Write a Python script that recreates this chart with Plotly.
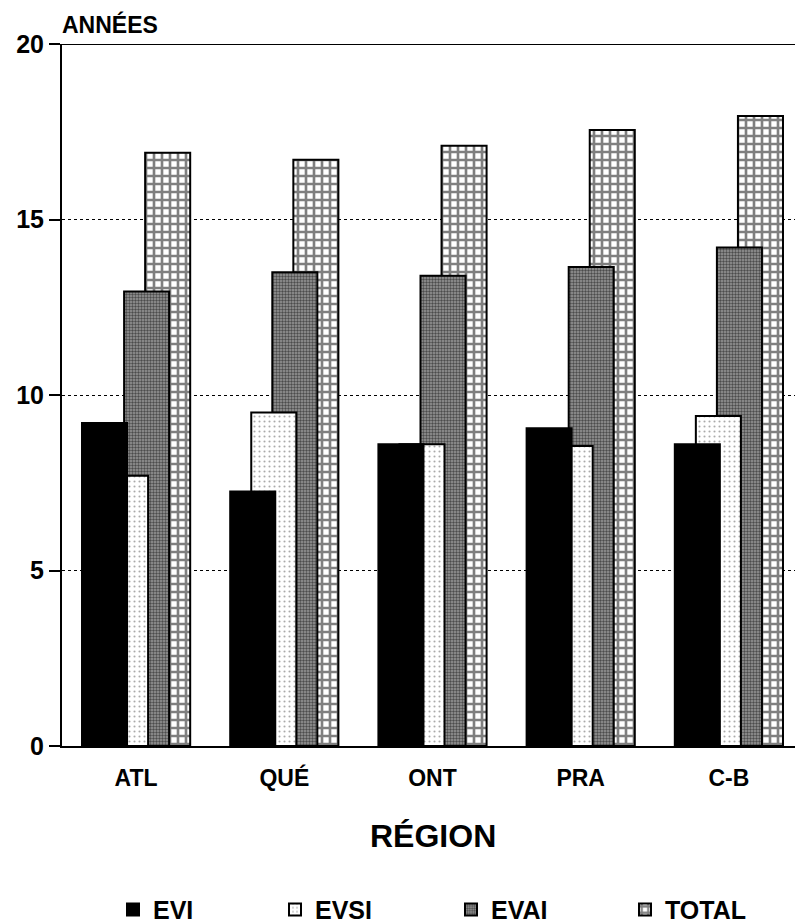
import plotly.graph_objects as go

regions = ["ATL", "QUÉ", "ONT", "PRA", "C-B"]
evi = [9.2, 7.25, 8.6, 9.05, 8.6]
evsi = [7.7, 9.5, 8.6, 8.55, 9.4]
evai = [12.95, 13.5, 13.4, 13.65, 14.2]
total = [16.9, 16.7, 17.1, 17.55, 17.95]
yticks = [0, 5, 10, 15, 20]

FONT = "Liberation Sans, Arial, Helvetica, sans-serif"
W = 0.304
STEP = 0.142
L0 = -0.365

# page has an 8px body margin; figure coordinates are screen - 8
PL, PR, PT, PB = 54, 795, 36, 738
PH = PB - PT
def px2paper(px):
    return (px - PL) / (PR - PL)

fig = go.Figure()

series = [
    ("TOTAL", total, 3, dict(shape="+", size=8, solidity=0.55, fgcolor="black", bgcolor="white"), "legend4"),
    ("EVAI", evai, 2, dict(shape=".", size=3, solidity=0.5, fgcolor="black", bgcolor="#999999"), "legend3"),
    ("EVSI", evsi, 1, dict(shape=".", size=5, solidity=0.14, fgcolor="#555", bgcolor="white"), "legend2"),
    ("EVI", evi, 0, None, "legend"),
]
for name, vals, idx, pat, leg in series:
    marker = dict(color="black" if pat is None else "white",
                  line=dict(color="black", width=2))
    if pat is not None:
        marker["pattern"] = pat
    fig.add_trace(go.Bar(
        x=regions, y=vals, name=name,
        width=W, offset=L0 + idx * STEP,
        marker=marker, legend=leg,
    ))

fig.add_shape(type="line", xref="paper", yref="y", x0=0, x1=1, y0=20, y1=20,
              line=dict(color="black", width=2))

legfont = dict(size=25, family=FONT, weight="bold")
legy = -0.2334
def leg(px):
    return dict(x=px2paper(px), xanchor="left", y=legy, yanchor="middle",
                font=legfont, bgcolor="rgba(0,0,0,0)", itemwidth=30)

fig.update_layout(
    width=803, height=924,
    barmode="overlay",
    paper_bgcolor="white", plot_bgcolor="white",
    margin=dict(l=PL, r=803 - PR, t=PT, b=924 - PB, autoexpand=False),
    font=dict(family=FONT, color="black", size=18, weight="bold"),
    showlegend=True,
    legend=leg(105),
    legend2=leg(267),
    legend3=leg(443),
    legend4=leg(617),
    annotations=[
        dict(text="ANNÉES", xref="paper", yref="paper", x=px2paper(52), y=1.0,
             xanchor="left", yanchor="middle", yshift=20, showarrow=False,
             font=dict(size=23, family=FONT, weight="bold")),
        dict(text="RÉGION", xref="paper", yref="paper", x=0.5,
             y=(PB - 828) / PH, xanchor="center", yanchor="middle", showarrow=False,
             font=dict(size=32, family=FONT, weight="bold")),
    ],
)
fig.update_xaxes(
    type="category", range=[-0.5, 4.5],
    showline=True, linecolor="black", linewidth=2,
    ticks="", showgrid=False, ticklabelstandoff=10,
    tickfont=dict(size=23, family=FONT, weight="bold"),
)
fig.update_yaxes(
    range=[0, 20], tickvals=yticks,
    showline=True, linecolor="black", linewidth=2,
    ticks="outside", ticklen=11, tickwidth=2, tickcolor="black",
    showgrid=True, gridcolor="black", griddash="dot", gridwidth=1,
    zeroline=False,
    tickfont=dict(size=25, family=FONT, weight="bold"),
)

fig.write_html("out.html")
